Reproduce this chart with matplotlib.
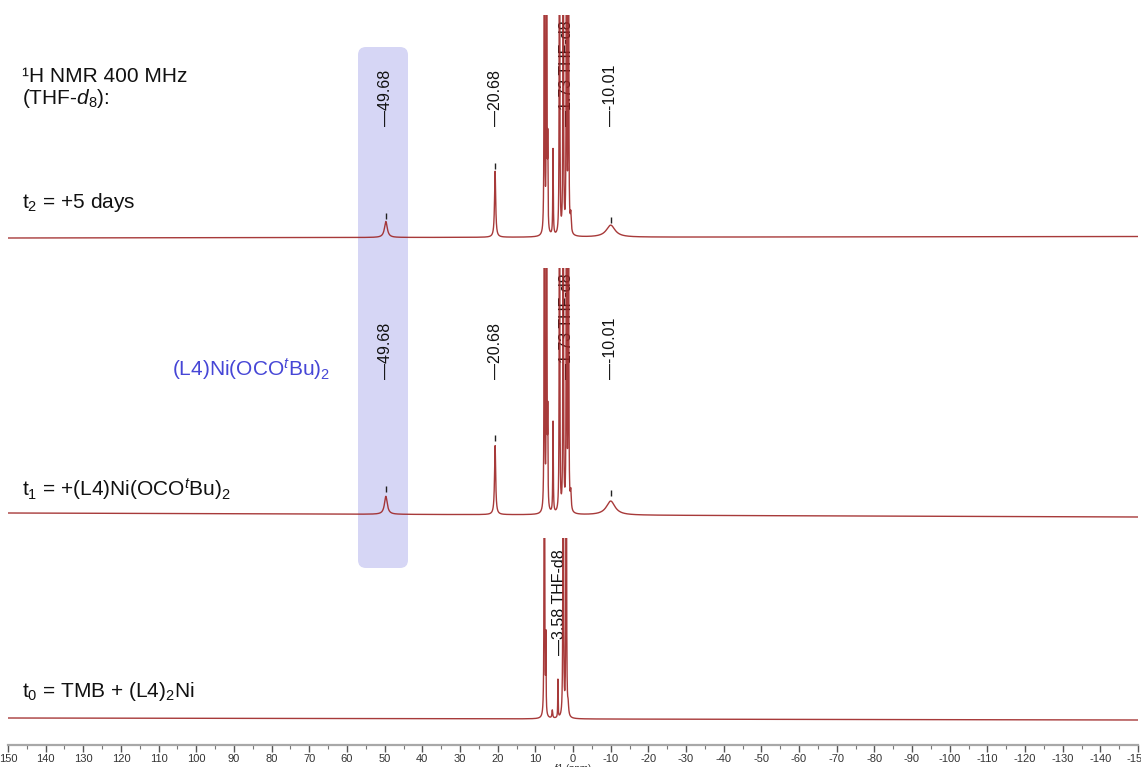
import numpy as np
import matplotlib
matplotlib.use('Agg')
import matplotlib.pyplot as plt
from matplotlib.patches import FancyBboxPatch
from matplotlib.transforms import IdentityTransform
from matplotlib.ticker import MultipleLocator

plt.rcParams['font.family'] = ['Liberation Sans', 'DejaVu Sans']
plt.rcParams['mathtext.fontset'] = 'custom'
plt.rcParams['mathtext.rm'] = 'Liberation Sans'
plt.rcParams['mathtext.it'] = 'Liberation Sans:italic'
plt.rcParams['mathtext.bf'] = 'Liberation Sans:bold'
plt.rcParams['axes.unicode_minus'] = False

# ---------------- data ----------------
ppm_left, ppm_right = 150, -150
tick_major = 10
tick_minor = 5

# peak lists: shift (ppm), height (px units), half-width (ppm)
t2_shift = [49.68, 20.68, 7.6, 7.0, 6.7, 5.3, 3.58, 2.6, 1.73, 1.2, 0.6, -10.01]
t2_height = [16, 66, 2500, 2500, 80, 86, 2500, 2500, 2500, 2500, 18, 12]
t2_width = [0.45, 0.18, 0.03, 0.03, 0.06, 0.08, 0.03, 0.03, 0.03, 0.03, 0.15, 1.4]

t1_shift = [49.68, 20.68, 7.6, 7.0, 6.7, 5.3, 3.58, 2.6, 1.73, 1.2, 0.6, -10.01]
t1_height = [18, 69, 2500, 2500, 85, 91, 2500, 2500, 2500, 2500, 18, 14]
t1_width = [0.45, 0.18, 0.03, 0.03, 0.06, 0.08, 0.03, 0.03, 0.03, 0.03, 0.15, 1.4]

t0_shift = [7.6, 7.2, 5.5, 4.0, 2.6, 1.8, 1.3]
t0_height = [2500, 75, 8, 38, 2500, 2500, 10]
t0_width = [0.03, 0.06, 0.12, 0.06, 0.03, 0.03, 0.15]

# baseline drift (left end, right end) in px units
t2_drift = [0, 1.5]
t1_drift = [0, -4]
t0_drift = [0, -2]

# peak labels
t2_label_shift = [49.68, 20.68, 1.73, -10.01]
t2_label_text = ['\u201449.68', '\u201420.68', '\u20141.73 THF-d8', '\u2014-10.01']
t2_tick_peak = [49.68, 20.68, -10.01]
t1_label_shift = [49.68, 20.68, 1.73, -10.01]
t1_label_text = ['\u201449.68', '\u201420.68', '\u20141.73 THF-d8', '\u2014-10.01']
t1_tick_peak = [49.68, 20.68, -10.01]
t0_label_shift = [3.58]
t0_label_text = ['\u20143.58 THF-d8']

# ---------------- layout ----------------
W, H = 1141, 767
fig = plt.figure(figsize=(W / 100, H / 100), dpi=100)
ax_left_px, ax_right_px = 8, 1138
axis_y_px = 745

ax = fig.add_axes([ax_left_px / W, (H - axis_y_px) / H,
                   (ax_right_px - ax_left_px) / W, axis_y_px / H])
ax.set_xlim(ppm_left, ppm_right)
ax.set_ylim(axis_y_px, 0)
for s in ['top', 'left', 'right']:
    ax.spines[s].set_visible(False)
ax.spines['bottom'].set_color('#a8a8a8')
ax.spines['bottom'].set_linewidth(1.6)
ax.set_yticks([])
ax.xaxis.set_major_locator(MultipleLocator(tick_major))
ax.xaxis.set_minor_locator(MultipleLocator(tick_minor))
ax.tick_params(axis='x', which='major', length=5, width=1, color='#555555',
               labelsize=8, labelcolor='#333333', pad=1.5)
ax.tick_params(axis='x', which='minor', length=3, width=0.8, color='#777777')
ax.set_xlabel('f1 (ppm)', fontsize=7, color='#333333', labelpad=0)
ax.patch.set_visible(False)

# highlight box (pixels)
box = FancyBboxPatch((358, H - 568), 50, 521,
                     boxstyle='round,pad=0,rounding_size=8',
                     transform=IdentityTransform(), facecolor='#d6d6f5',
                     edgecolor='none', zorder=0)
ax.add_patch(box)

x = np.linspace(ppm_left, ppm_right, 90001)


def spectrum(shifts, heights, widths, drift):
    y = np.zeros_like(x)
    for s, h, w in zip(shifts, heights, widths):
        y += h * w ** 2 / ((x - s) ** 2 + w ** 2)
    y += drift[0] + (drift[1] - drift[0]) * (ppm_left - x) / (ppm_left - ppm_right)
    return y


traces = [
    dict(base=238, top=15, shifts=t2_shift, heights=t2_height, widths=t2_width,
         drift=t2_drift, ticks=t2_tick_peak),
    dict(base=513, top=268, shifts=t1_shift, heights=t1_height, widths=t1_width,
         drift=t1_drift, ticks=t1_tick_peak),
    dict(base=718, top=538, shifts=t0_shift, heights=t0_height, widths=t0_width,
         drift=t0_drift, ticks=[]),
]

line_color = '#9e2424'
for tr in traces:
    pad = 12
    bot = tr['base'] + pad
    tax = fig.add_axes([ax_left_px / W, (H - bot) / H,
                        (ax_right_px - ax_left_px) / W, (bot - tr['top']) / H],
                       sharex=ax)
    tax.set_zorder(2)
    tax.patch.set_visible(False)
    tax.axis('off')
    tax.set_ylim(-pad, tr['base'] - tr['top'])
    y = spectrum(tr['shifts'], tr['heights'], tr['widths'], tr['drift'])
    tax.plot(x, y, color=line_color, lw=1.0, alpha=0.9)
    for p in tr['ticks']:
        hpk = tr['heights'][tr['shifts'].index(p)]
        tax.vlines(p, hpk + 3, hpk + 9, color='#222222', lw=1.0)

ax.set_xlim(ppm_left, ppm_right)

# peak labels (text bottom at given px)
lab_kw = dict(rotation=90, ha='center', va='bottom', fontsize=11.5, color='#111111', zorder=3)
for s, t in zip(t2_label_shift, t2_label_text):
    ax.text(s, 126, t, **lab_kw)
for s, t in zip(t1_label_shift, t1_label_text):
    ax.text(s, 379, t, **lab_kw)
for s, t in zip(t0_label_shift, t0_label_text):
    ax.text(s, 655, t, **lab_kw)


def ftext(px, py, s, **kw):
    fig.text(px / W, 1 - py / H, s, va='baseline', ha='left', fontsize=15, **kw)


ftext(22, 82, '\u00b9H NMR 400 MHz', color='#111111')
ftext(22, 104, '(THF-$d_{\\mathit{8}}$):', color='#111111')
ftext(22, 208, 't$_2$ = +5 days', color='#111111')
ftext(172, 376, '(L4)Ni(OCO$^{\\mathit{t}}$Bu)$_2$', color='#4646d6')
ftext(22, 496, 't$_1$ = +(L4)Ni(OCO$^{\\mathit{t}}$Bu)$_2$', color='#111111')
ftext(22, 697, 't$_0$ = TMB + (L4)$_2$Ni', color='#111111')

fig.savefig('out.png', dpi=100)
